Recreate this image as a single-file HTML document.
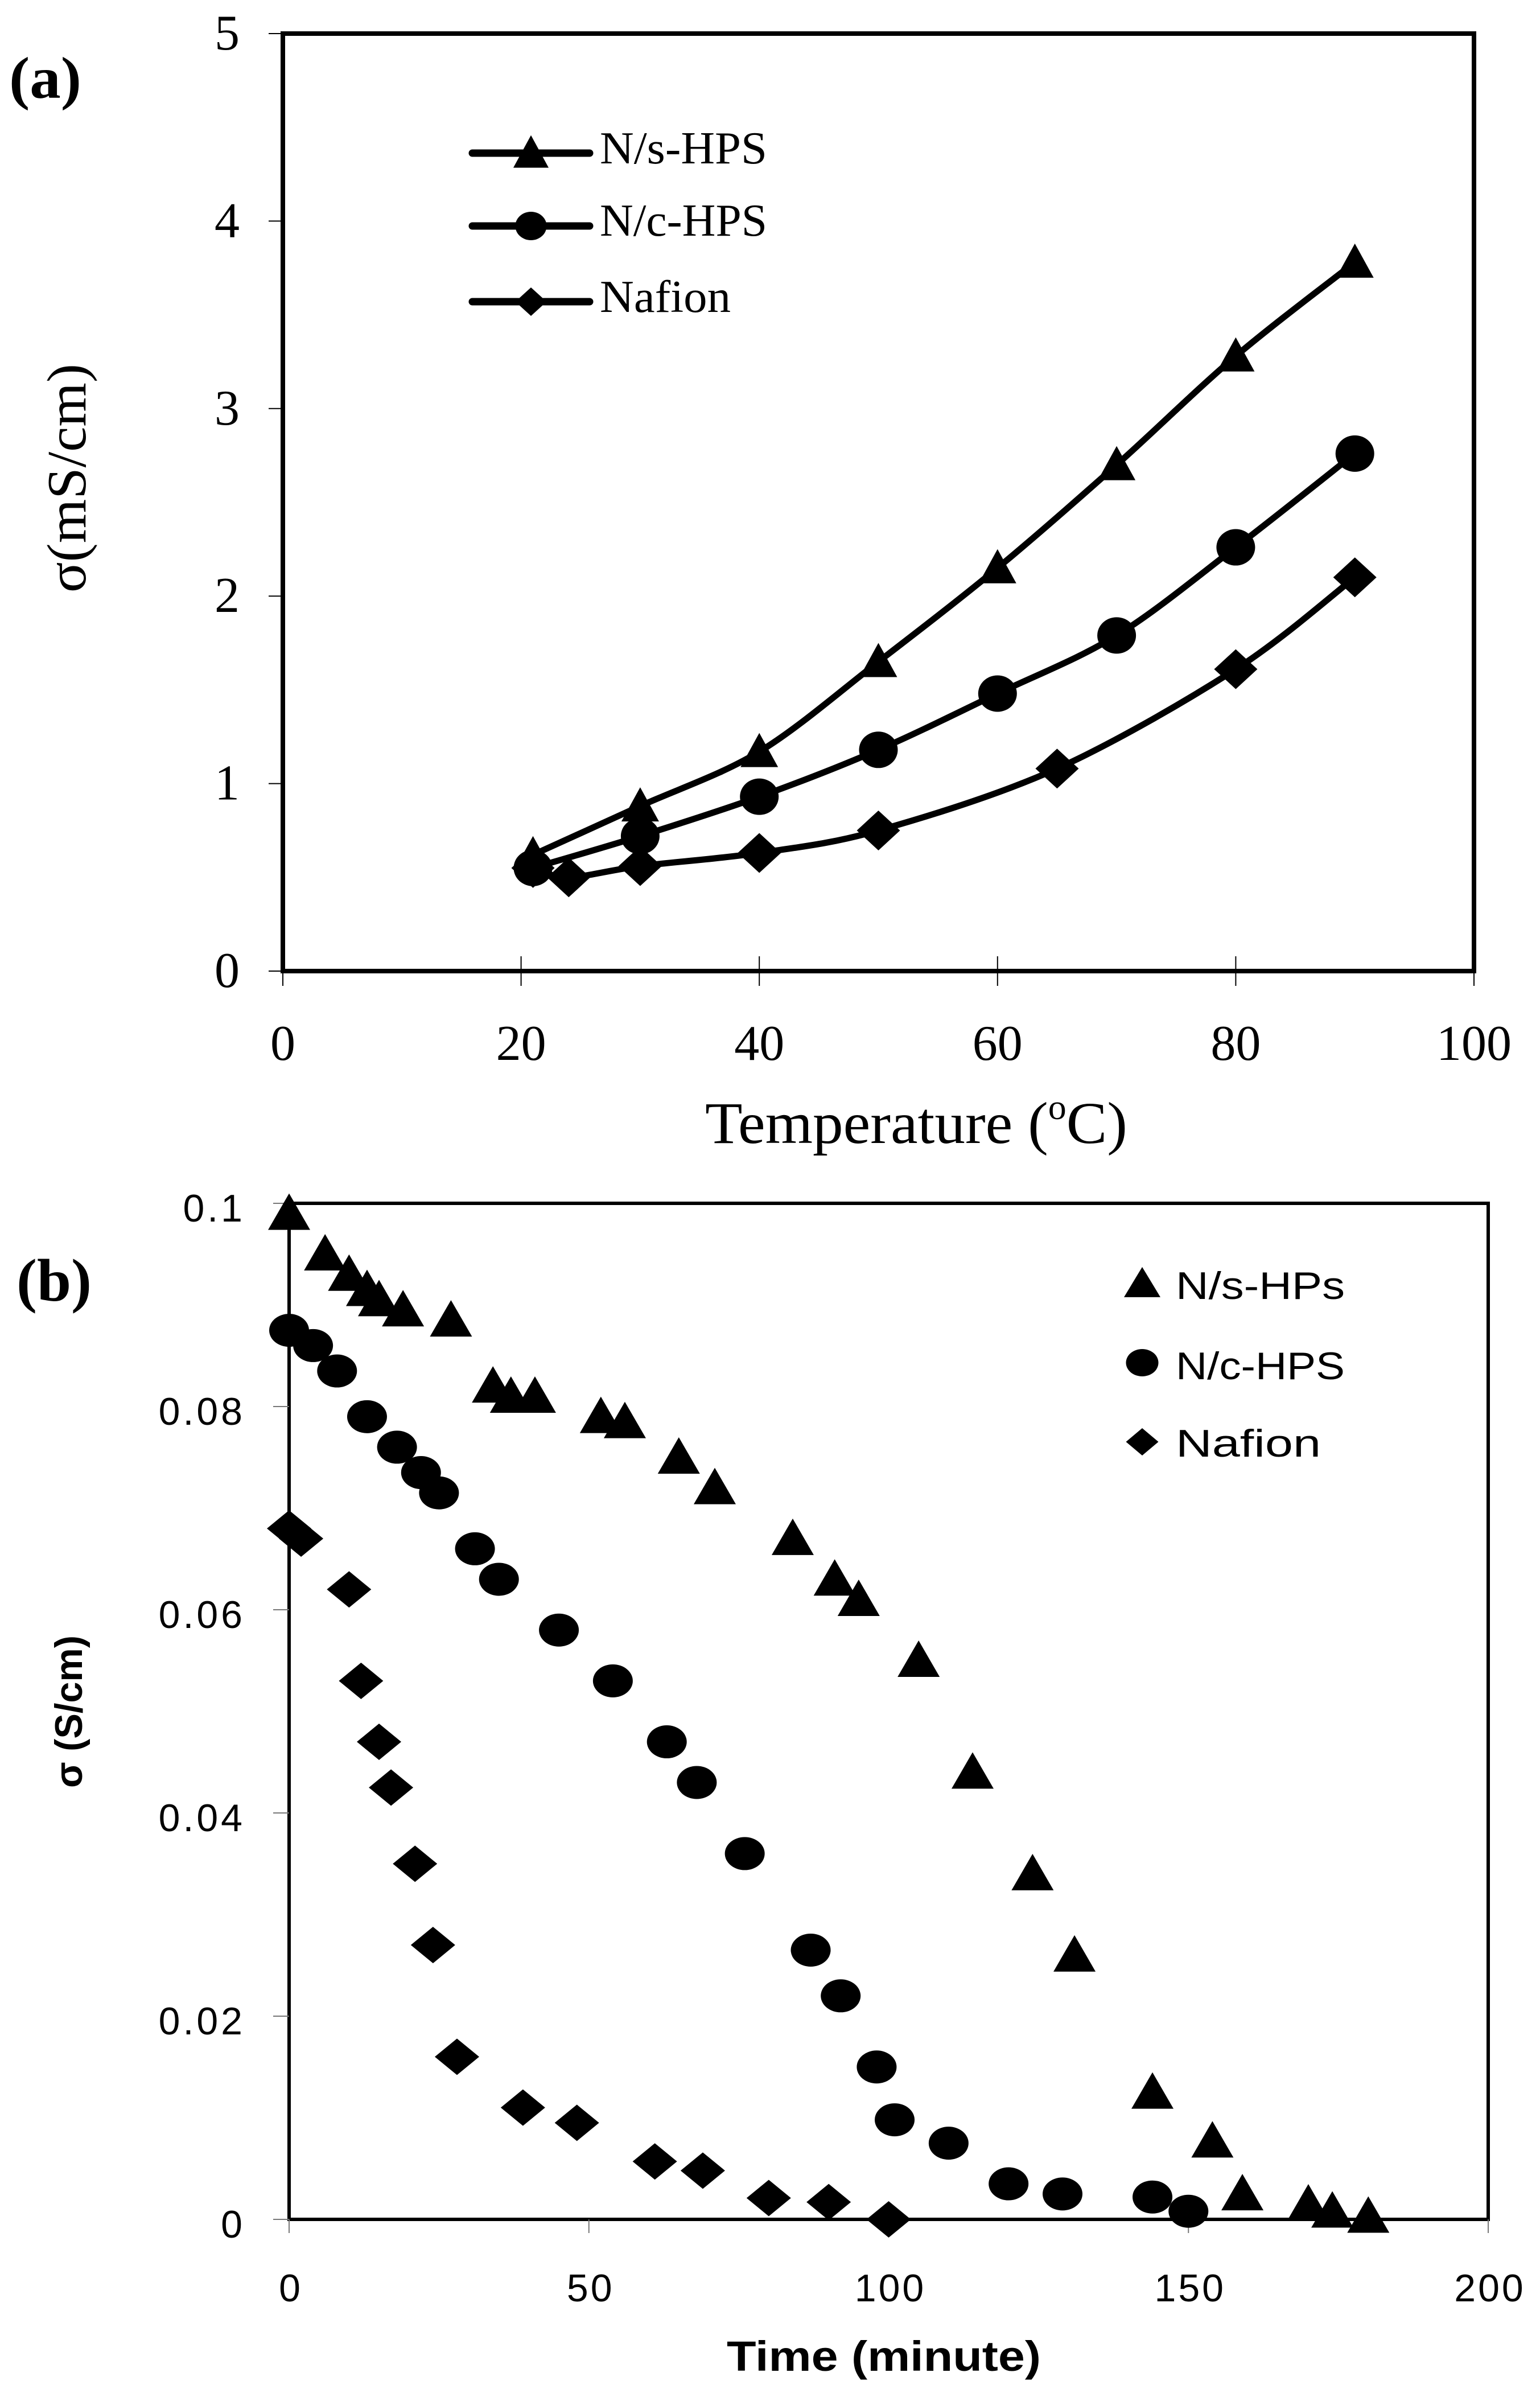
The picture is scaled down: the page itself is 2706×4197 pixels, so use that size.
<!DOCTYPE html>
<html><head><meta charset="utf-8"><style>html,body{margin:0;padding:0;background:#fff}svg{display:block}</style></head>
<body>
<svg id="fig" xmlns="http://www.w3.org/2000/svg" width="2706" height="4197" viewBox="0 0 2706 4197">
<rect width="2706" height="4197" fill="#fff"/>
<g id="ga"></g>
<g id="gb"></g>
</svg>
<script>
// ---- chart (a) data ----
const aNsX = [21,30,40,50,60,70,80,90];
const aNsY = [0.62,0.88,1.17,1.65,2.15,2.70,3.28,3.78];
const aNcX = [21,30,40,50,60,70,80,90];
const aNcY = [0.55,0.72,0.93,1.18,1.48,1.79,2.26,2.76];
const aNfX = [21,24,30,40,50,65,80,90];
const aNfY = [0.55,0.50,0.56,0.63,0.75,1.08,1.61,2.10];
const aXTicks = [0,20,40,60,80,100];
const aYTicks = [0,1,2,3,4,5];
// ---- chart (b) data ----
const bNsX = [0,6,10,13,15,19,27,34,37,41,52,56,65,71,84,91,95,105,114,124,131,144,154,159,170,174,180];
const bNsY = [0.099,0.095,0.093,0.0915,0.0905,0.0895,0.0885,0.082,0.081,0.081,0.079,0.0785,0.075,0.072,0.067,0.063,0.061,0.055,0.044,0.034,0.026,0.0125,0.0077,0.0025,0.0015,0.0008,0.0003];
const bNcX = [0,4,8,13,18,22,25,31,35,45,54,63,68,76,87,92,98,101,110,120,129,144,150];
const bNcY = [0.0875,0.086,0.0835,0.079,0.076,0.0735,0.0715,0.066,0.063,0.058,0.053,0.047,0.043,0.036,0.0265,0.022,0.015,0.0098,0.0075,0.0035,0.0025,0.0022,0.0008];
const bNfX = [0,2,10,12,15,17,21,24,28,39,48,61,69,80,90,100];
const bNfY = [0.068,0.067,0.062,0.053,0.047,0.0425,0.035,0.027,0.016,0.011,0.0095,0.0057,0.0048,0.0021,0.0017,0.0];
const bXTicks = [0,50,100,150,200];
const bYTicks = [0,0.02,0.04,0.06,0.08,0.1];
const bYLabels = ["0","0.02","0.04","0.06","0.08","0.1"];

const NS='http://www.w3.org/2000/svg';
function mk(parent, tag, attrs, text){
  const e=document.createElementNS(NS,tag);
  for(const k in attrs) e.setAttribute(k,attrs[k]);
  if(text!==undefined) e.textContent=text;
  parent.appendChild(e); return e;
}
const SERIF='"Liberation Serif", serif', SANS='"Liberation Sans", sans-serif';

function marker(g, type, cx, cy, w, h){
  let e;
  if(type==='tri') e=mk(g,'polygon',{points:`${cx},${cy-h*0.55} ${cx+w/2},${cy+h*0.45} ${cx-w/2},${cy+h*0.45}`,fill:'#000'});
  else if(type==='cir') e=mk(g,'ellipse',{cx:cx,cy:cy,rx:w/2,ry:h/2,fill:'#000'});
  else e=mk(g,'polygon',{points:`${cx},${cy-h/2} ${cx+w/2},${cy} ${cx},${cy+h/2} ${cx-w/2},${cy}`,fill:'#000'});
  return e;
}
function smooth(pts){
  let d=`M${pts[0][0]},${pts[0][1]}`;
  for(let i=0;i<pts.length-1;i++){
    const p0=pts[Math.max(0,i-1)],p1=pts[i],p2=pts[i+1],p3=pts[Math.min(pts.length-1,i+2)];
    const t=0.16;
    d+=` C${p1[0]+(p2[0]-p0[0])*t},${p1[1]+(p2[1]-p0[1])*t} ${p2[0]-(p3[0]-p1[0])*t},${p2[1]-(p3[1]-p1[1])*t} ${p2[0]},${p2[1]}`;
  }
  return d;
}

// ===== Chart A =====
(function(){
  const g=document.getElementById('ga');
  const L=497,R=2590,T=59,B=1706;
  const sx=v=>L+(v-0)/100*(R-L), sy=v=>B-(v/5)*(B-T);
  const frame=mk(g,'rect',{x:L,y:T,width:R-L,height:B-T,fill:'none',stroke:'#000','stroke-width':8});
  
  
  aYTicks.forEach(v=>{
    mk(g,'line',{x1:L-25,x2:L,y1:sy(v),y2:sy(v),stroke:'#000','stroke-width':2});
    const t=mk(g,'text',{x:421,y:sy(v)+28,'text-anchor':'end','font-family':SERIF,'font-size':88},String(v));
    
    
  });
  aXTicks.forEach(v=>{
    mk(g,'line',{x1:sx(v),x2:sx(v),y1:v===0?B:B-26,y2:B+26,stroke:'#000','stroke-width':2});
    const t=mk(g,'text',{x:sx(v),y:1862,'text-anchor':'middle','font-family':SERIF,'font-size':88},String(v));
    
    
  });
  const xt=mk(g,'text',{x:1239,y:2008,'font-family':SERIF,'font-size':104,textLength:742,lengthAdjust:'spacingAndGlyphs'});
  xt.innerHTML='Temperature (<tspan dy="-42" font-size="62">o</tspan><tspan dy="42">C)</tspan>';
  
  
  const yt=mk(g,'text',{x:0,y:0,transform:'translate(150,840) rotate(-90)','text-anchor':'middle','font-family':SERIF,'font-size':98,textLength:402,lengthAdjust:'spacingAndGlyphs'},'σ(mS/cm)');
  
  
  const lab=mk(g,'text',{x:16,y:172,'font-family':SERIF,'font-size':104,'font-weight':'bold',textLength:127,lengthAdjust:'spacingAndGlyphs'},'(a)');
  
  
  const series=[[aNsX,aNsY,'tri','N/s-HPS',269,287],[aNcX,aNcY,'cir','N/c-HPS',397,414],[aNfX,aNfY,'dia','Nafion',530,548]];
  series.forEach(([xs,ys,type,name,ly,lb])=>{
    const sg=mk(g,'g',{});
    
    
    const pts=xs.map((x,i)=>[sx(x),sy(ys[i])]);
    const p=mk(sg,'path',{d:smooth(pts),fill:'none',stroke:'#000','stroke-width':11,'stroke-linejoin':'round','stroke-linecap':'round'});
    
    
    pts.forEach(q=>{
      const m=marker(sg,type,q[0],q[1],type==='tri'?66:(type==='cir'?68:76),type==='tri'?60:(type==='cir'?64:70));
      
      
    });
    const le=mk(g,'g',{});
    
    
    mk(le,'line',{x1:830,x2:1036,y1:ly,y2:ly,stroke:'#000','stroke-width':13,'stroke-linecap':'round'});
    marker(le,type,933,ly,type==='tri'?62:55,type==='tri'?57:50);
    mk(le,'text',{x:1054,y:lb,'font-family':SERIF,'font-size':80,textLength:name==='Nafion'?230:294,lengthAdjust:'spacingAndGlyphs'},name);
  });
})();

// ===== Chart B =====
(function(){
  const g=document.getElementById('gb');
  const L=508,R=2615,T=2114,B=3899;
  const sx=v=>L+v/200*(R-L), sy=v=>B-(v/0.1)*(B-T);
  const frame=mk(g,'rect',{x:L,y:T,width:R-L,height:B-T,fill:'none',stroke:'#000','stroke-width':6});
  
  
  bYTicks.forEach((v,i)=>{
    mk(g,'line',{x1:L-28,x2:L,y1:sy(v),y2:sy(v),stroke:'#777','stroke-width':2});
    const t=mk(g,'text',{x:431,y:sy(v)+32,'text-anchor':'end','font-family':SANS,'font-size':68,'letter-spacing':5},bYLabels[i]);
    
    
  });
  bXTicks.forEach(v=>{
    mk(g,'line',{x1:sx(v),x2:sx(v),y1:B,y2:B+24,stroke:'#777','stroke-width':2});
    const t=mk(g,'text',{x:sx(v)+3,y:4043,'text-anchor':'middle','font-family':SANS,'font-size':68,'letter-spacing':4},String(v));
    
    
  });
  const xt=mk(g,'text',{x:1277,y:4165,'font-family':SANS,'font-size':74,'font-weight':'bold',textLength:552,lengthAdjust:'spacingAndGlyphs'},'Time (minute)');
  
  
  const yt=mk(g,'text',{x:0,y:0,transform:'translate(144,3007) rotate(-90)','text-anchor':'middle','font-family':SANS,'font-size':68,'font-weight':'bold',textLength:268,lengthAdjust:'spacingAndGlyphs'},'σ (S/cm)');
  
  
  const lab=mk(g,'text',{x:29,y:2285,'font-family':SERIF,'font-size':106,'font-weight':'bold',textLength:132,lengthAdjust:'spacingAndGlyphs'},'(b)');
  
  
  const series=[[bNsX,bNsY,'tri','N/s-HPs',2255,2282],[bNcX,bNcY,'cir','N/c-HPS',2394,2423],[bNfX,bNfY,'dia','Nafion',2533,2559]];
  series.forEach(([xs,ys,type,name,ly,lb])=>{
    const sg=mk(g,'g',{});
    
    
    xs.forEach((x,i)=>{
      const m=marker(sg,type,sx(x),sy(ys[i]),type==='tri'?74:(type==='cir'?70:78),type==='tri'?64:(type==='cir'?58:64));
      
      
    });
    const le=mk(g,'g',{});
    
    
    marker(le,type,2007,ly,type==='tri'?64:57,type==='tri'?53:48);
    mk(le,'text',{x:2066,y:lb,'font-family':SANS,'font-size':68,textLength:name==='Nafion'?255:297,lengthAdjust:'spacingAndGlyphs'},name);
  });
})();
</script>
</body></html>
